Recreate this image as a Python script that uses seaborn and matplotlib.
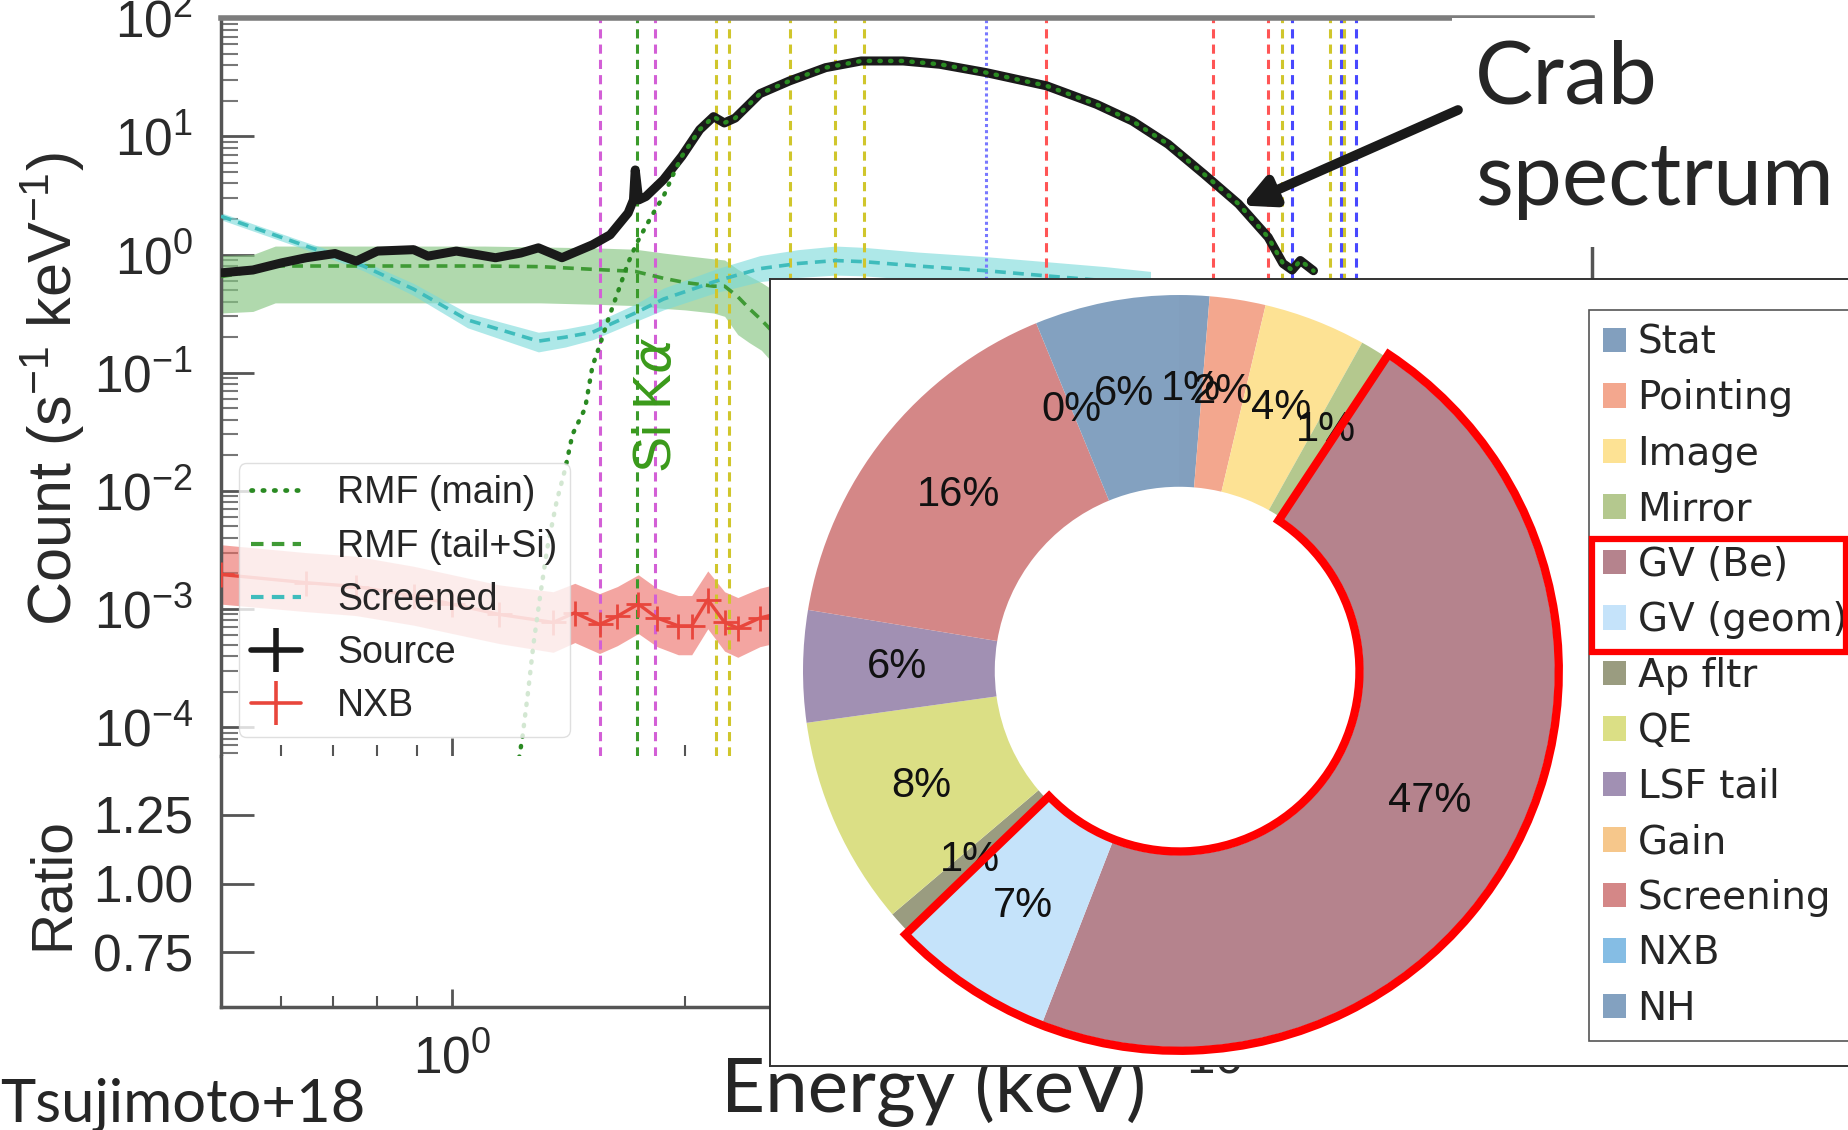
import numpy as np
import matplotlib.pyplot as plt
import seaborn as sns
from matplotlib.lines import Line2D
from matplotlib.patches import Wedge, Rectangle
from matplotlib.ticker import LogLocator, NullFormatter, FixedLocator, FormatStrFormatter

sns.set_theme(style='ticks')
plt.rcParams['font.family'] = ['Liberation Sans', 'DejaVu Sans']
plt.rcParams['mathtext.default'] = 'regular'

# ---------------- spectrum values (keV, counts s^-1 keV^-1) ----------------
src_e = [0.502, 0.552, 0.601, 0.647, 0.705, 0.751, 0.80, 0.891, 0.93, 1.012, 1.137, 1.226, 1.292,
         1.386, 1.518, 1.60, 1.688, 1.715, 1.724, 1.742, 1.78, 1.875, 1.981, 2.089, 2.177, 2.248,
         2.322, 2.50, 2.73, 3.04, 3.38, 3.83, 4.27, 4.90, 5.87, 6.81, 7.58, 8.43, 9.38, 10.4,
         11.36, 11.87, 12.2, 12.5, 13.0]
src_c = [0.70, 0.74, 0.85, 0.94, 1.02, 0.88, 1.07, 1.10, 0.97, 1.07, 0.94, 1.03, 1.14,
         0.94, 1.21, 1.47, 2.25, 2.9, 5.2, 2.9, 3.1, 4.3, 6.8, 11.4, 14.7, 13.0,
         14.3, 23.0, 29.5, 38.2, 43.5, 43.5, 40.8, 34.7, 26.8, 18.7, 13.5, 8.6, 4.8, 2.68,
         1.4, 0.84, 0.74, 0.89, 0.73]

# RMF main component: steep rise, then follows the source from ~2 keV
rmf_lead_e = [1.22, 1.232, 1.253, 1.273, 1.30, 1.327, 1.364, 1.40, 1.43, 1.485, 1.518, 1.55,
              1.59, 1.635, 1.688, 1.733, 1.78, 1.82, 1.875, 1.937]
rmf_lead_c = [5.5e-5, 8.2e-5, 2.0e-4, 5.0e-4, 1.34e-3, 3.3e-3, 8.1e-3, 0.0155, 0.030, 0.05, 0.114,
              0.168, 0.28, 0.47, 0.85, 1.26, 1.74, 2.25, 3.1, 5.0]

tail_e = [0.502, 0.552, 0.59, 0.7, 0.9, 1.1, 1.3, 1.518, 1.724, 1.875, 2.0, 2.177, 2.25, 2.34, 2.42, 2.51, 2.6]
tail_c = [0.65, 0.72, 0.80, 0.80, 0.80, 0.80, 0.79, 0.75, 0.72, 0.63, 0.58, 0.54, 0.54, 0.44, 0.35, 0.28, 0.22]
tail_hi = [0.98, 1.0, 1.18, 1.18, 1.18, 1.18, 1.16, 1.14, 1.11, 1.03, 0.98, 0.92, 0.90, 0.75, 0.66, 0.58, 0.50]
tail_lo = [0.32, 0.33, 0.39, 0.39, 0.39, 0.39, 0.39, 0.38, 0.37, 0.35, 0.34, 0.32, 0.30, 0.21, 0.18, 0.155, 0.12]

scr_e = [0.502, 0.647, 0.767, 0.891, 1.046, 1.292, 1.40, 1.518, 1.724, 1.875, 2.20, 2.50, 2.8, 3.13,
         3.41, 4.0, 4.9, 5.87, 7.0, 8.0]
scr_c = [2.11, 1.18, 0.80, 0.51, 0.28, 0.185, 0.20, 0.22, 0.32, 0.42, 0.60, 0.76, 0.84, 0.89,
         0.87, 0.80, 0.73, 0.66, 0.60, 0.55]
scr_hi = [2.26, 1.27, 0.88, 0.57, 0.32, 0.22, 0.235, 0.26, 0.38, 0.52, 0.76, 0.98, 1.10, 1.18,
          1.15, 1.05, 0.96, 0.87, 0.79, 0.72]
scr_lo = [1.97, 1.10, 0.73, 0.45, 0.24, 0.150, 0.165, 0.19, 0.27, 0.34, 0.48, 0.59, 0.64, 0.67,
          0.66, 0.61, 0.55, 0.50, 0.46, 0.42]

nxb_e = [0.502, 0.647, 0.75, 0.891, 1.0, 1.15, 1.35, 1.44, 1.55, 1.635, 1.74, 1.84, 1.96, 2.04,
         2.14, 2.25, 2.34, 2.50, 2.7, 3.0]
nxb_c = [1.96e-3, 1.67e-3, 1.55e-3, 1.29e-3, 1.1e-3, 9.0e-4, 7.7e-4, 9.3e-4, 7.4e-4, 8.7e-4,
         1.1e-3, 8.4e-4, 7.2e-4, 7.2e-4, 1.2e-3, 7.7e-4, 6.9e-4, 8.4e-4, 9.5e-4, 9.0e-4]
nxb_hi = [3.5e-3, 3.0e-3, 2.8e-3, 2.3e-3, 1.95e-3, 1.6e-3, 1.4e-3, 1.65e-3, 1.35e-3, 1.55e-3,
          1.95e-3, 1.5e-3, 1.3e-3, 1.3e-3, 2.1e-3, 1.4e-3, 1.25e-3, 1.5e-3, 1.7e-3, 1.6e-3]
nxb_lo = [1.1e-3, 9.5e-4, 8.8e-4, 7.3e-4, 6.2e-4, 5.1e-4, 4.3e-4, 5.2e-4, 4.2e-4, 4.9e-4,
          6.2e-4, 4.8e-4, 4.1e-4, 4.1e-4, 6.8e-4, 4.4e-4, 3.9e-4, 4.8e-4, 5.4e-4, 5.1e-4]

# instrumental edges / lines (keV)
edge_magenta = [1.553, 1.831]
edge_green = [1.733]
edge_yellow = [2.196, 2.28, 2.73, 3.13, 3.41, 11.82, 13.64, 14.22]
edge_blue_dot = [4.90]
edge_red = [5.86, 9.65, 11.36]
edge_blue = [12.21, 14.12, 14.74]

# ---------------- systematic error budget (donut) ----------------
comp_names = ['Stat', 'Pointing', 'Image', 'Mirror', 'GV (Be)', 'GV (geom)', 'Ap fltr', 'QE',
              'LSF tail', 'Gain', 'Screening', 'NXB', 'NH']
comp_share = [1.3, 2.4, 4.4, 1.2, 46.6, 6.9, 1.0, 9.0, 4.8, 0.0, 16.2, 0.0, 6.2]
comp_label = ['1%', '2%', '4%', '1%', '47%', '7%', '1%', '8%', '6%', '', '16%', '0%', '6%']
comp_colors = ['#829fbe', '#f3a78e', '#fde294', '#b4c88e', '#b5838d', '#c5e3fa', '#9a9c80',
               '#dbdf85', '#a190b3', '#f6c78b', '#d48787', '#85bde4', '#83a1c0']

# ---------------- layout ----------------
W, H = 1848, 1130
fig = plt.figure(figsize=(W / 100, H / 100), dpi=100)


def box(l, t, r, b):
    return [l / W, 1 - b / H, (r - l) / W, (b - t) / H]


ax = fig.add_axes(box(221, 18, 1592, 756))
axr = fig.add_axes(box(221, 756, 1592, 1007))
axi = fig.add_axes(box(770, 279, 1852, 1066))

green = '#3a9a2a'
dash = (0, (3, 2))
for e in edge_magenta:
    ax.axvline(e, color='#d35fd6', ls=dash, lw=2.2, zorder=2.5)
for e in edge_green:
    ax.axvline(e, color=green, ls=dash, lw=2.2, zorder=2.5)
for e in edge_yellow:
    ax.axvline(e, color='#d0c62c', ls=dash, lw=2.2, zorder=2.5)
for e in edge_blue_dot:
    ax.axvline(e, color='#7878ff', ls=(0, (1, 1)), lw=2.2, zorder=2.5)
for e in edge_red:
    ax.axvline(e, color='#ff5555', ls=dash, lw=2.2, zorder=2.5)
for e in edge_blue:
    ax.axvline(e, color='#4848ff', ls=dash, lw=2.2, zorder=2.5)

ax.fill_between(tail_e, tail_lo, tail_hi, color='#86c682', alpha=0.65, lw=0, zorder=2)
ax.fill_between(scr_e, scr_lo, scr_hi, color='#78dada', alpha=0.6, lw=0, zorder=2)
ax.fill_between(nxb_e, nxb_lo, nxb_hi, color='#ec6a62', alpha=0.6, lw=0, zorder=2)

sns.lineplot(x=tail_e, y=tail_c, ax=ax, color='#3f9a35', lw=2.6, linestyle=(0, (3, 2)), sort=False, zorder=3)
sns.lineplot(x=scr_e, y=scr_c, ax=ax, color='#3fbcbc', lw=2.6, linestyle=(0, (3, 2)), sort=False, zorder=3)
sns.lineplot(x=nxb_e, y=nxb_c, ax=ax, color='#e8463c', lw=2.4, marker='+', markersize=18,
             markeredgewidth=2, markeredgecolor='#e8463c', sort=False, zorder=3)
sns.lineplot(x=src_e, y=src_c, ax=ax, color='k', lw=6.5, sort=False, zorder=4)
rmf_e = rmf_lead_e + src_e[22:]
rmf_c = rmf_lead_c + src_c[22:]
sns.lineplot(x=rmf_e, y=rmf_c, ax=ax, color='#2a8a22', lw=3.2, linestyle=(0, (0.3, 2.1)),
             dash_capstyle='round', sort=False, zorder=5)

ax.text(1.837, 0.0141, r'Si K$\mathit{\alpha}$', rotation=90, ha='center', va='bottom',
        color='#3a9a1a', fontsize=39, zorder=6)

ax.set_yscale('log')
ax.set_ylim(5.7e-5, 100.5)
for a in (ax, axr):
    a.set_xscale('log')
    a.set_xlim(0.502, 29.8)
    a.set_facecolor('white')
    a.xaxis.set_major_locator(LogLocator(base=10, numticks=10))
    a.xaxis.set_minor_locator(LogLocator(base=10, subs=np.arange(2, 10), numticks=50))
    a.xaxis.set_minor_formatter(NullFormatter())
    a.tick_params(axis='x', which='major', direction='in', length=13, width=2, color='#555')
    a.tick_params(axis='x', which='minor', direction='in', length=8, width=1.5, color='#555')
    a.tick_params(axis='y', which='major', direction='in', length=24, width=2, color='#555')
    a.tick_params(axis='y', which='minor', direction='in', length=12, width=1.5, color='#777')
    a.tick_params(labelsize=37, labelcolor='#2a2a2a', pad=20)
    a.set_xlabel('')
    a.set_ylabel('')

ax.yaxis.set_major_locator(LogLocator(base=10, numticks=20))
ax.yaxis.set_minor_locator(LogLocator(base=10, subs=np.arange(2, 10), numticks=100))
ax.yaxis.set_minor_formatter(NullFormatter())
ax.tick_params(axis='x', labelbottom=False)
ax.spines['bottom'].set_visible(False)
ax.spines['top'].set_color('#7d7d7d')
ax.spines['top'].set_linewidth(4)
for s in ('left', 'right'):
    ax.spines[s].set_color('#555')
    ax.spines[s].set_linewidth(2.5)

axr.set_ylim(0.55, 1.465)
axr.yaxis.set_major_locator(FixedLocator([0.75, 1.0, 1.25]))
axr.yaxis.set_major_formatter(FormatStrFormatter('%.2f'))
axr.tick_params(axis='x', pad=20)
axr.spines['top'].set_visible(False)
axr.spines['right'].set_visible(False)
for s in ('left', 'bottom'):
    axr.spines[s].set_color('#555')
    axr.spines[s].set_linewidth(2.5)

# spectrum legend
leg_handles = [
    Line2D([0], [0], color='#2a8a22', lw=3.4, ls=(0, (0.3, 2.1)), dash_capstyle='round'),
    Line2D([0], [0], color='#3f9a35', lw=3, ls=(0, (3, 2))),
    Line2D([0], [0], color='#3fbcbc', lw=3, ls=(0, (3, 2))),
    Line2D([0], [0], color='k', lw=4, marker='|', markersize=32, markeredgewidth=4),
    Line2D([0], [0], color='#e8463c', lw=2.6, marker='|', markersize=32, markeredgewidth=2.6),
]
leg_labels = ['RMF (main)', 'RMF (tail+Si)', 'Screened', 'Source', 'NXB']
ax.legend(leg_handles, leg_labels, loc='upper left', bbox_to_anchor=(239 / W, 1 - 463 / H),
          bbox_transform=fig.transFigure, fontsize=27, handlelength=1.33, handletextpad=0.95,
          labelspacing=0.46, borderpad=0.33, borderaxespad=0, framealpha=0.8,
          fancybox=True, edgecolor='#d8d8d8', facecolor='white').set_zorder(7)

# white patch behind the "Crab spectrum" annotation
ax.add_patch(Rectangle((1452 / W, 1 - 247 / H), (W - 1452) / W, (247 - 17.5) / H,
                       transform=fig.transFigure, facecolor='white', edgecolor='none',
                       clip_on=False, zorder=8))
ax.annotate('', xy=(10.5, 2.6), xycoords='data', xytext=(1458 / W, 1 - 110 / H),
            textcoords='figure fraction',
            arrowprops=dict(arrowstyle='-|>', color='k', lw=7, mutation_scale=45,
                            shrinkA=0, shrinkB=0), zorder=9)

# ---------------- donut inset ----------------
wedges, texts = axi.pie(comp_share, labels=comp_label, labeldistance=0.75, colors=comp_colors,
                        startangle=90, counterclock=False,
                        wedgeprops=dict(width=0.51, linewidth=0),
                        textprops=dict(fontsize=30, color='#111'))
for t in texts:
    t.set_ha('center')
    t.set_va('center')

cum = np.cumsum(comp_share) / np.sum(comp_share)
gv_start = 90 - 360 * cum[5]
gv_end = 90 - 360 * cum[3]
axi.add_patch(Wedge((0, 0), 1.01, gv_start, gv_end, width=0.53, fill=False,
                    edgecolor='#ff0000', lw=6, joinstyle='miter', zorder=5))

axi.set_xlim(-1.0878, 1.7899)
axi.set_ylim(-1.0505, 1.0426)
axi.set_aspect('auto')
axi.set_frame_on(True)
axi.set_facecolor('white')
axi.set_xticks([])
axi.set_yticks([])
for s in axi.spines.values():
    s.set_color('#333')
    s.set_linewidth(1.4)
axi.set_zorder(5)

leg2 = axi.legend(wedges, comp_names, loc='upper left', bbox_to_anchor=(1589 / W, 1 - 310 / H),
                  bbox_transform=fig.transFigure, prop={'family': 'DejaVu Sans', 'size': 28},
                  handlelength=0.6, handleheight=0.6, handletextpad=0.3, labelspacing=0.45,
                  borderpad=0.35, borderaxespad=0, fancybox=False, edgecolor='#555',
                  framealpha=1)
leg2.get_frame().set_linewidth(1.2)

# red highlight around the GV legend entries
fig.canvas.draw()
frame_bb = leg2.get_frame().get_window_extent()
bb_be = leg2.get_texts()[4].get_window_extent()
bb_geom = leg2.get_texts()[5].get_window_extent()
y0 = bb_geom.y0 - 13
y1 = bb_be.y1 + 7
axi.add_patch(Rectangle(((frame_bb.x0 + 3) / W, y0 / H), (W - 5 - frame_bb.x0) / W, (y1 - y0) / H,
                        transform=fig.transFigure, fill=False, edgecolor='#ff0000', lw=4.5,
                        clip_on=False, zorder=10))

# ---------------- texts ----------------
fig.text(53 / W, 1 - 389 / H, r'Count (s$^{-1}$ keV$^{-1}$)', rotation=90, ha='center',
         va='center', fontsize=44, color='#2a2a2a')
fig.text(53 / W, 1 - 884 / H, 'Ratio', rotation=90, ha='center', va='center', fontsize=41,
         color='#2a2a2a')
fig.text(1475 / W, 1 - 104 / H, 'Crab', fontsize=63, family='Lato', va='baseline', zorder=11)
fig.text(1475 / W, 1 - 205 / H, 'spectrum', fontsize=63, family='Lato', va='baseline', zorder=11)
fig.text(0.0, 1 - 1122 / H, 'Tsujimoto+18', fontsize=43, family='Lato', va='baseline')
fig.text(721 / W, 1 - 1112 / H, 'Energy (keV)', fontsize=55, family='Lato', va='baseline', zorder=2)

fig.savefig('out.png', dpi=100)
